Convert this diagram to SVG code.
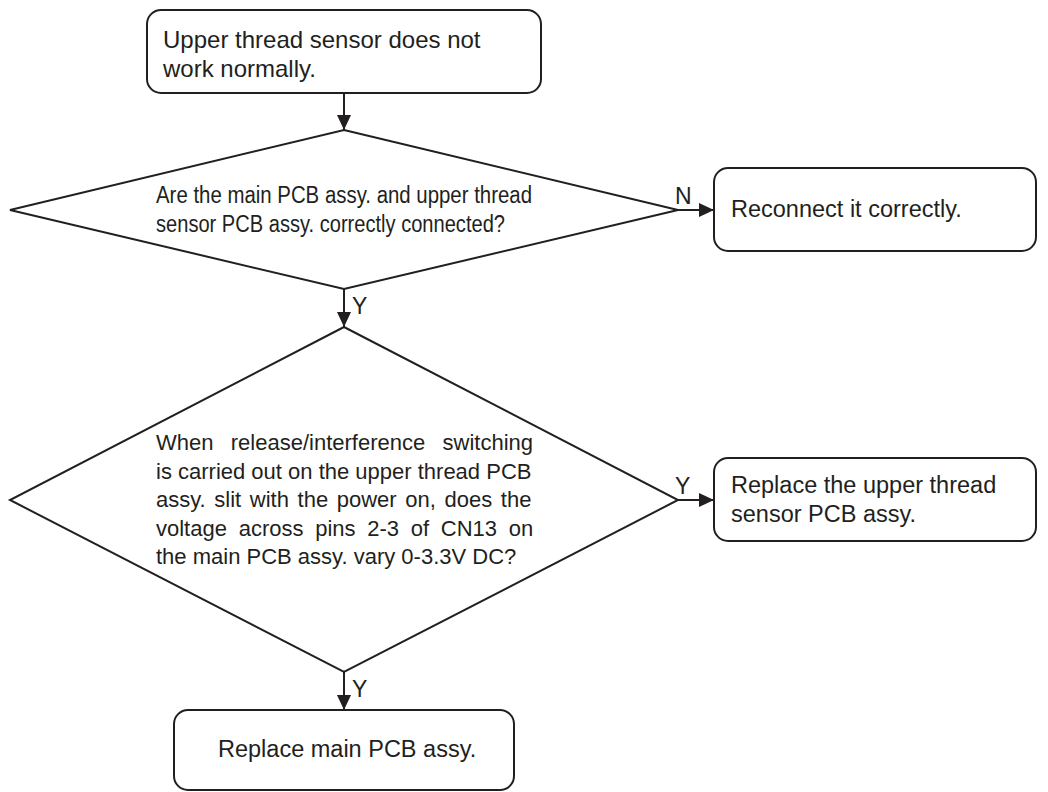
<svg xmlns="http://www.w3.org/2000/svg" width="1048" height="792" viewBox="0 0 1048 792">
  <defs>
    <marker id="arrow" markerUnits="userSpaceOnUse" markerWidth="16" markerHeight="14" refX="15" refY="7" orient="auto">
      <path d="M0,0 L15,7 L0,14 Z" fill="#231f20"/>
    </marker>
    <style>
      .box { fill: #ffffff; stroke: #231f20; stroke-width: 2; }
      .dec { fill: #ffffff; stroke: #231f20; stroke-width: 2; stroke-linejoin: miter; }
      .txt { font-family: "Liberation Sans", Arial, sans-serif; fill: #231f20; }
      .big { font-size: 24px; }
      .mid { font-size: 23.5px; }
      .q { font-size: 22px; }
      .qn { font-size: 23.5px; }
      .lbl { font-family: "Liberation Sans", Arial, sans-serif; font-size: 23px; fill: #231f20; }
      .link { stroke: #231f20; stroke-width: 2; fill: none; marker-end: url(#arrow); }
    </style>
  </defs>
  <rect width="1048" height="792" fill="#ffffff"/>

  <!-- start -->
  <g id="start">
    <rect class="box" x="147" y="10" width="394" height="83" rx="14"/>
    <text class="txt big" x="163" y="48">Upper thread sensor does not</text>
    <text class="txt big" x="163" y="77">work normally.</text>
  </g>

  <!-- decision 1: connection check -->
  <g id="check-connection">
    <polygon class="dec" points="344,130 678,210 344,289 10,210"/>
    <text class="txt qn" x="156" y="203" textLength="376" lengthAdjust="spacingAndGlyphs">Are the main PCB assy. and upper thread</text>
    <text class="txt qn" x="156" y="232" textLength="349" lengthAdjust="spacingAndGlyphs">sensor PCB assy. correctly connected?</text>
  </g>

  <!-- reconnect -->
  <g id="reconnect">
    <rect class="box" x="714" y="168" width="322" height="83" rx="14"/>
    <text class="txt mid" x="731" y="217">Reconnect it correctly.</text>
  </g>

  <!-- decision 2: voltage check -->
  <g id="check-voltage">
    <polygon class="dec" points="344,327 678,500 344,672 10,500"/>
    <text class="txt q" x="156" y="450" word-spacing="11.2">When release/interference switching</text>
    <text class="txt q" x="156" y="479">is carried out on the upper thread PCB</text>
    <text class="txt q" x="156" y="507" word-spacing="2.5">assy. slit with the power on, does the</text>
    <text class="txt q" x="156" y="536" word-spacing="5.6">voltage across pins 2-3 of CN13 on</text>
    <text class="txt q" x="156" y="564">the main PCB assy. vary 0-3.3V DC?</text>
  </g>

  <!-- replace sensor board -->
  <g id="replace-sensor">
    <rect class="box" x="714" y="458" width="322" height="83" rx="14"/>
    <text class="txt mid" x="731" y="493">Replace the upper thread</text>
    <text class="txt mid" x="731" y="522">sensor PCB assy.</text>
  </g>

  <!-- replace main board -->
  <g id="replace-main">
    <rect class="box" x="174" y="710" width="340" height="80" rx="14"/>
    <text class="txt mid" x="218" y="757">Replace main PCB assy.</text>
  </g>

  <!-- connectors -->
  <g id="connectors">
    <line class="link" x1="344" y1="93" x2="344" y2="130"/>
    <line class="link" x1="344" y1="289" x2="344" y2="327"/>
    <line class="link" x1="678" y1="210" x2="714" y2="210"/>
    <line class="link" x1="678" y1="500" x2="714" y2="500"/>
    <line class="link" x1="344" y1="672" x2="344" y2="710"/>
    <text class="lbl" x="352" y="314">Y</text>
    <text class="lbl" x="675" y="204">N</text>
    <text class="lbl" x="675" y="494">Y</text>
    <text class="lbl" x="352" y="697">Y</text>
  </g>
</svg>
